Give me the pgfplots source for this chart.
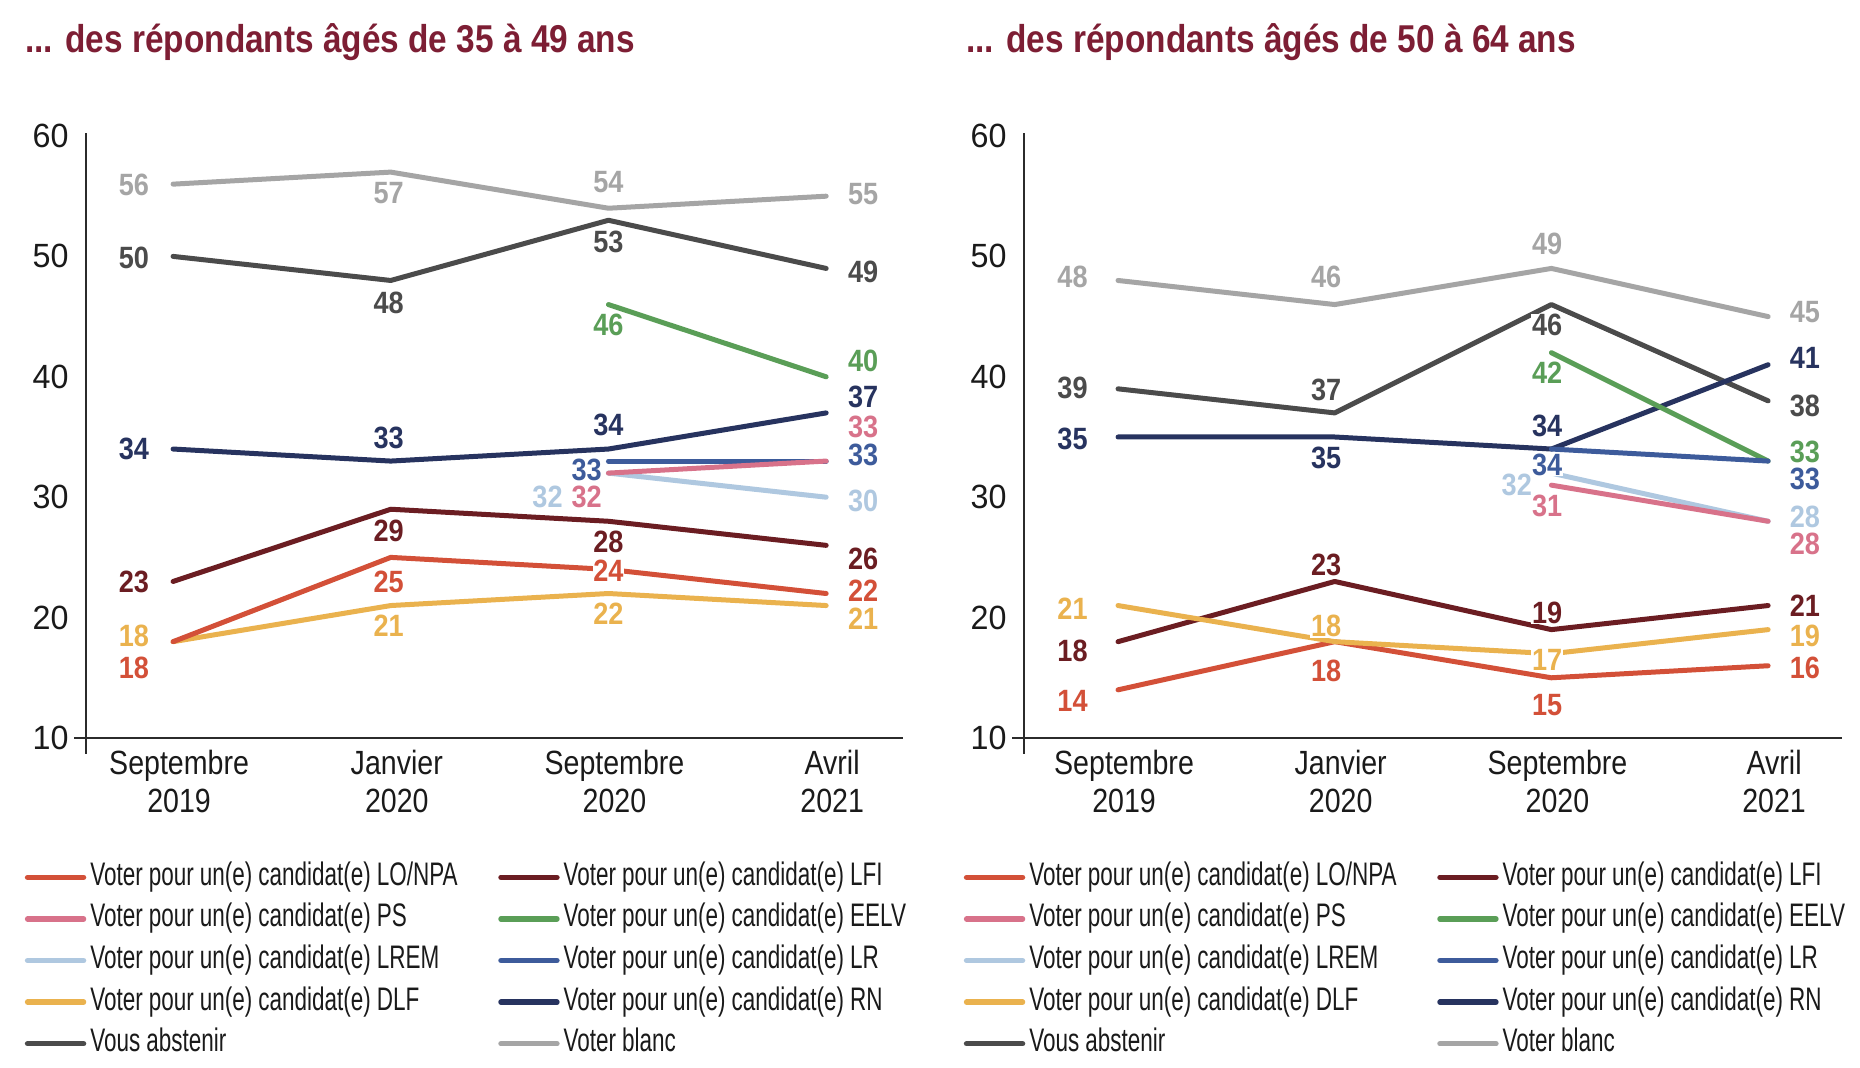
\documentclass[border=0pt]{standalone}
\usepackage{fontspec}
\setmainfont{Liberation Sans}
\newfontfamily\legfam{Liberation Sans}[FakeStretch=0.69]
\newfontfamily\xfam{Liberation Sans}[FakeStretch=0.85]
\newfontfamily\tfam{Liberation Sans}[FakeStretch=0.96]
\newfontfamily\labfam{Liberation Sans}[FakeStretch=0.88]
\newfontfamily\titfam{Liberation Sans}[FakeStretch=0.86]
\newcommand{\legtxt}[1]{\spaceskip=3pt\relax\xspaceskip=3pt\relax #1}
\usepackage{pgfplots}
\pgfplotsset{compat=1.18}

\definecolor{cLO}{HTML}{D35038}
\definecolor{cLFI}{HTML}{6B1D22}
\definecolor{cPS}{HTML}{D8728A}
\definecolor{cEELV}{HTML}{5A9E57}
\definecolor{cLREM}{HTML}{AFC8E0}
\definecolor{cLR}{HTML}{3D5B9B}
\definecolor{cDLF}{HTML}{EAB24E}
\definecolor{cRN}{HTML}{27335F}
\definecolor{cABS}{HTML}{4B4B4B}
\definecolor{cBL}{HTML}{A5A5A5}
\definecolor{txt}{HTML}{1A1A1A}
\definecolor{axc}{HTML}{2B2B2B}
\definecolor{titc}{HTML}{7D1E34}

\pgfplotsset{
 legend image code/.code={\draw[#1, line width=2.7pt, line cap=round] (0pt,0pt) -- (28pt,0pt);},
 mystyle/.style={
  scale only axis, height=301pt, anchor=south west,
  ymin=10, ymax=60, clip=false,
  axis line style={draw=none}, major tick length=0pt, tick style={draw=none},
  ytick={10,20,30,40,50,60}, yticklabels={10,20,30,40,50,60},
  yticklabel style={font=\tfam\fontsize{16.8}{19}\selectfont, anchor=east, inner sep=0pt, xshift=-8.5pt, text=txt},
  xtick={0,1,2,3},
  xticklabels={{Septembre\\2019},{Janvier\\2020},{Septembre\\2020},{Avril\\2021}},
  xticklabel style={font=\xfam\fontsize{16.8}{19}\selectfont, align=center, anchor=north, inner sep=0pt, yshift=-6pt, xshift=3pt, text=txt},
  legend columns=2,
  legend style={draw=none, fill=none, anchor=north west, inner sep=0pt, column sep=0pt, row sep=4.8pt,
    font=\legfam\fontsize{16.3}{19}\selectfont, text=txt, cells={anchor=west},
    nodes={text width=202pt, align=left, inner xsep=2pt, inner ysep=0pt, text height=12pt, text depth=4pt}},
 },
 ln/.style={line width=2.5pt, line cap=round, line join=round, no markers, forget plot},
}
\tikzset{lab/.style={font=\labfam\bfseries\fontsize{15.4}{16}\selectfont, fill=white, inner sep=0.3pt}}

\begin{document}
\begin{tikzpicture}
\useasboundingbox (0,0) rectangle (930pt,534pt);
\fill[white] (0,0) rectangle (930pt,534pt);
\node[anchor=base west, inner sep=0pt, text=titc, font=\titfam\bfseries\fontsize{19.4}{22}\selectfont] at (12.5pt,507.6pt) {... des répondants âgés de 35 à 49 ans};
\node[anchor=base west, inner sep=0pt, text=titc, font=\titfam\bfseries\fontsize{19.4}{22}\selectfont] at (483pt,507.6pt) {... des répondants âgés de 50 à 64 ans};

% ---------------- left: 35-49 ----------------
\begin{axis}[mystyle, at={(43pt,165pt)}, width=408.5pt, xmin=-0.40, xmax=3.353,
  legend style={at={(-0.0753,-0.2043)}}]
\addlegendimage{color=cLO}\addlegendentry{\legtxt{Voter pour un(e) candidat(e) LO/NPA}}
\addlegendimage{color=cLFI}\addlegendentry{\legtxt{Voter pour un(e) candidat(e) LFI}}
\addlegendimage{color=cPS}\addlegendentry{\legtxt{Voter pour un(e) candidat(e) PS}}
\addlegendimage{color=cEELV}\addlegendentry{\legtxt{Voter pour un(e) candidat(e) EELV}}
\addlegendimage{color=cLREM}\addlegendentry{\legtxt{Voter pour un(e) candidat(e) LREM}}
\addlegendimage{color=cLR}\addlegendentry{\legtxt{Voter pour un(e) candidat(e) LR}}
\addlegendimage{color=cDLF}\addlegendentry{\legtxt{Voter pour un(e) candidat(e) DLF}}
\addlegendimage{color=cRN}\addlegendentry{\legtxt{Voter pour un(e) candidat(e) RN}}
\addlegendimage{color=cABS}\addlegendentry{\legtxt{Vous abstenir}}
\addlegendimage{color=cBL}\addlegendentry{\legtxt{Voter blanc}}

\draw[line width=1.1pt, color=axc] ([xshift=-5.8pt]rel axis cs:0,0) -- (rel axis cs:1,0);
\draw[line width=0.8pt, color=axc] ([yshift=-7.8pt]rel axis cs:0,0) -- ([yshift=1.5pt]rel axis cs:0,1);

\addplot[ln, cBL] coordinates {(0,56)(1,57)(2,54)(3,55)};
\addplot[ln, cABS] coordinates {(0,50)(1,48)(2,53)(3,49)};
\addplot[ln, cLFI] coordinates {(0,23)(1,29)(2,28)(3,26)};
\addplot[ln, cDLF] coordinates {(0,18)(1,21)(2,22)(3,21)};
\addplot[ln, cLO] coordinates {(0,18)(1,25)(2,24)(3,22)};
\addplot[ln, cEELV] coordinates {(2,46)(3,40)};
\addplot[ln, cRN] coordinates {(0,34)(1,33)(2,34)(3,37)};
\addplot[ln, cLREM] coordinates {(2,32)(3,30)};
\addplot[ln, cLR] coordinates {(2,33)(3,33)};
\addplot[ln, cPS] coordinates {(2,32)(3,33)};

\node[lab, text=cBL] at (axis cs:-0.18,55.9) {56};
\node[lab, text=cBL] at (axis cs:0.99,55.3) {57};
\node[lab, text=cBL] at (axis cs:2.0,56.2) {54};
\node[lab, text=cBL] at (axis cs:3.17,55.2) {55};
\node[lab, text=cABS] at (axis cs:-0.18,49.9) {50};
\node[lab, text=cABS] at (axis cs:0.99,46.1) {48};
\node[lab, text=cABS] at (axis cs:2.0,51.2) {53};
\node[lab, text=cABS] at (axis cs:3.17,48.7) {49};
\node[lab, text=cEELV] at (axis cs:2.0,44.3) {46};
\node[lab, text=cEELV] at (axis cs:3.17,41.3) {40};
\node[lab, text=cRN] at (axis cs:-0.18,34.0) {34};
\node[lab, text=cRN] at (axis cs:0.99,34.9) {33};
\node[lab, text=cRN] at (axis cs:2.0,36.0) {34};
\node[lab, text=cRN] at (axis cs:3.17,38.3) {37};
\node[lab, text=cPS] at (axis cs:3.17,35.8) {33};
\node[lab, text=cLR] at (axis cs:3.17,33.5) {33};
\node[lab, text=cLREM] at (axis cs:3.17,29.7) {30};
\node[lab, text=cLR] at (axis cs:1.90,32.3) {33};
\node[lab, text=cPS] at (axis cs:1.90,30.0) {32};
\node[lab, text=cLREM] at (axis cs:1.72,30.0) {32};
\node[lab, text=cLFI] at (axis cs:-0.18,23.0) {23};
\node[lab, text=cLFI] at (axis cs:0.99,27.2) {29};
\node[lab, text=cLFI] at (axis cs:2.0,26.3) {28};
\node[lab, text=cLFI] at (axis cs:3.17,24.9) {26};
\node[lab, text=cLO] at (axis cs:-0.18,15.8) {18};
\node[lab, text=cLO] at (axis cs:0.99,23.0) {25};
\node[lab, text=cLO] at (axis cs:2.0,23.9) {24};
\node[lab, text=cLO] at (axis cs:3.17,22.2) {22};
\node[lab, text=cDLF] at (axis cs:-0.18,18.5) {18};
\node[lab, text=cDLF] at (axis cs:0.99,19.3) {21};
\node[lab, text=cDLF] at (axis cs:2.0,20.3) {22};
\node[lab, text=cDLF] at (axis cs:3.17,19.9) {21};
\end{axis}

% ---------------- right: 50-64 ----------------
\begin{axis}[mystyle, at={(512pt,165pt)}, width=409pt, xmin=-0.434, xmax=3.341,
  legend style={at={(-0.0740,-0.2043)}}]
\addlegendimage{color=cLO}\addlegendentry{\legtxt{Voter pour un(e) candidat(e) LO/NPA}}
\addlegendimage{color=cLFI}\addlegendentry{\legtxt{Voter pour un(e) candidat(e) LFI}}
\addlegendimage{color=cPS}\addlegendentry{\legtxt{Voter pour un(e) candidat(e) PS}}
\addlegendimage{color=cEELV}\addlegendentry{\legtxt{Voter pour un(e) candidat(e) EELV}}
\addlegendimage{color=cLREM}\addlegendentry{\legtxt{Voter pour un(e) candidat(e) LREM}}
\addlegendimage{color=cLR}\addlegendentry{\legtxt{Voter pour un(e) candidat(e) LR}}
\addlegendimage{color=cDLF}\addlegendentry{\legtxt{Voter pour un(e) candidat(e) DLF}}
\addlegendimage{color=cRN}\addlegendentry{\legtxt{Voter pour un(e) candidat(e) RN}}
\addlegendimage{color=cABS}\addlegendentry{\legtxt{Vous abstenir}}
\addlegendimage{color=cBL}\addlegendentry{\legtxt{Voter blanc}}

\draw[line width=1.1pt, color=axc] ([xshift=-5.8pt]rel axis cs:0,0) -- (rel axis cs:1,0);
\draw[line width=0.8pt, color=axc] ([yshift=-7.8pt]rel axis cs:0,0) -- ([yshift=1.5pt]rel axis cs:0,1);

\addplot[ln, cBL] coordinates {(0,48)(1,46)(2,49)(3,45)};
\addplot[ln, cABS] coordinates {(0,39)(1,37)(2,46)(3,38)};
\addplot[ln, cLFI] coordinates {(0,18)(1,23)(2,19)(3,21)};
\addplot[ln, cLO] coordinates {(0,14)(1,18)(2,15)(3,16)};
\addplot[ln, cDLF] coordinates {(0,21)(1,18)(2,17)(3,19)};
\addplot[ln, cRN] coordinates {(0,35)(1,35)(2,34)(3,41)};
\addplot[ln, cEELV] coordinates {(2,42)(3,33)};
\addplot[ln, cLREM] coordinates {(2,32)(3,28)};
\addplot[ln, cLR] coordinates {(2,34)(3,33)};
\addplot[ln, cPS] coordinates {(2,31)(3,28)};

\node[lab, text=cBL] at (axis cs:-0.21,48.3) {48};
\node[lab, text=cBL] at (axis cs:0.96,48.3) {46};
\node[lab, text=cBL] at (axis cs:1.98,51.0) {49};
\node[lab, text=cBL] at (axis cs:3.17,45.4) {45};
\node[lab, text=cABS] at (axis cs:-0.21,39.1) {39};
\node[lab, text=cABS] at (axis cs:0.96,38.9) {37};
\node[lab, text=cABS] at (axis cs:1.98,44.3) {46};
\node[lab, text=cABS] at (axis cs:3.17,37.6) {38};
\node[lab, text=cEELV] at (axis cs:1.98,40.3) {42};
\node[lab, text=cEELV] at (axis cs:3.17,33.8) {33};
\node[lab, text=cRN] at (axis cs:-0.21,34.8) {35};
\node[lab, text=cRN] at (axis cs:0.96,33.3) {35};
\node[lab, text=cRN] at (axis cs:1.98,35.9) {34};
\node[lab, text=cRN] at (axis cs:3.17,41.6) {41};
\node[lab, text=cLR] at (axis cs:1.98,32.7) {34};
\node[lab, text=cLR] at (axis cs:3.17,31.5) {33};
\node[lab, text=cLREM] at (axis cs:1.84,31.0) {32};
\node[lab, text=cLREM] at (axis cs:3.17,28.4) {28};
\node[lab, text=cPS] at (axis cs:1.98,29.3) {31};
\node[lab, text=cPS] at (axis cs:3.17,26.1) {28};
\node[lab, text=cLFI] at (axis cs:-0.21,17.2) {18};
\node[lab, text=cLFI] at (axis cs:0.96,24.4) {23};
\node[lab, text=cLFI] at (axis cs:1.98,20.4) {19};
\node[lab, text=cLFI] at (axis cs:3.17,21.0) {21};
\node[lab, text=cDLF] at (axis cs:-0.21,20.7) {21};
\node[lab, text=cDLF] at (axis cs:0.96,19.3) {18};
\node[lab, text=cDLF] at (axis cs:1.98,16.5) {17};
\node[lab, text=cDLF] at (axis cs:3.17,18.5) {19};
\node[lab, text=cLO] at (axis cs:-0.21,13.1) {14};
\node[lab, text=cLO] at (axis cs:0.96,15.6) {18};
\node[lab, text=cLO] at (axis cs:1.98,12.7) {15};
\node[lab, text=cLO] at (axis cs:3.17,15.8) {16};
\end{axis}
\end{tikzpicture}
\end{document}
